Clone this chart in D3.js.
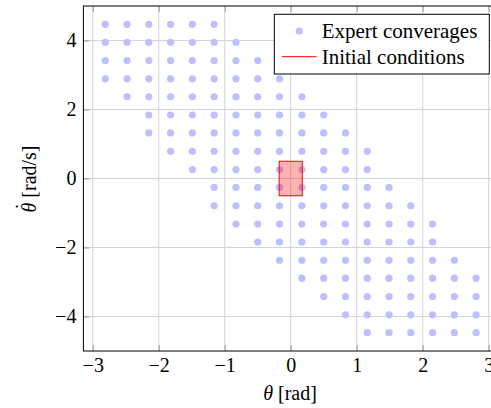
<!DOCTYPE html>
<html>
<head>
<meta charset="utf-8">
<script src="https://cdn.jsdelivr.net/npm/d3@7"></script>
<style>
  html, body { margin: 0; padding: 0; background: #fff; }
  svg { display: block; }
  svg text { font-family: "Liberation Serif", "Times New Roman", "DejaVu Serif", serif !important; }
</style>
</head>
<body>
<svg id="chart" width="491" height="408"></svg>
<script>
// ---- Data ----
const xTicks = [-3, -2, -1, 0, 1, 2, 3];
const yTicks = [-4, -2, 0, 2, 4];
const xDomain = [-3.1416, 3.1416];
const yDomain = [-5, 5];

// Expert converged initial states: [thetaDot, [theta values]]
const expertRows = [
  [4.47,  [-2.81, -2.48, -2.15, -1.82, -1.49, -1.16]],
  [3.95,  [-2.81, -2.48, -2.15, -1.82, -1.49, -1.16, -0.83]],
  [3.42,  [-2.81, -2.48, -2.15, -1.82, -1.49, -1.16, -0.83, -0.50]],
  [2.89,  [-2.81, -2.48, -2.15, -1.82, -1.49, -1.16, -0.83, -0.50, -0.17]],
  [2.37,  [-2.48, -2.15, -1.82, -1.49, -1.16, -0.83, -0.50, -0.17, 0.17]],
  [1.84,  [-2.15, -1.82, -1.49, -1.16, -0.83, -0.50, -0.17, 0.17, 0.50]],
  [1.32,  [-2.15, -1.82, -1.49, -1.16, -0.83, -0.50, -0.17, 0.17, 0.50, 0.83]],
  [0.79,  [-1.82, -1.49, -1.16, -0.83, -0.50, -0.17, 0.17, 0.50, 0.83, 1.16]],
  [0.26,  [-1.49, -1.16, -0.83, -0.50, -0.17, 0.17, 0.50, 0.83, 1.16]],
  [-0.26, [-1.16, -0.83, -0.50, -0.17, 0.17, 0.50, 0.83, 1.16, 1.49]],
  [-0.79, [-1.16, -0.83, -0.50, -0.17, 0.17, 0.50, 0.83, 1.16, 1.49, 1.82]],
  [-1.32, [-0.83, -0.50, -0.17, 0.17, 0.50, 0.83, 1.16, 1.49, 1.82, 2.15]],
  [-1.84, [-0.50, -0.17, 0.17, 0.50, 0.83, 1.16, 1.49, 1.82, 2.15]],
  [-2.37, [-0.17, 0.17, 0.50, 0.83, 1.16, 1.49, 1.82, 2.15, 2.48]],
  [-2.89, [0.17, 0.50, 0.83, 1.16, 1.49, 1.82, 2.15, 2.48, 2.81]],
  [-3.42, [0.50, 0.83, 1.16, 1.49, 1.82, 2.15, 2.48, 2.81]],
  [-3.95, [0.83, 1.16, 1.49, 1.82, 2.15, 2.48, 2.81]],
  [-4.47, [1.16, 1.49, 1.82, 2.15, 2.48, 2.81]]
];

// Initial conditions box
const initTheta = [-0.175, 0.175];
const initThetaDot = [-0.5, 0.5];

const legendLabels = ["Expert converages", "Initial conditions"];

// ---- Layout ----
const svg = d3.select("#chart");
const pLeft = 83.4, pRight = 498.0, pTop = 6, pBottom = 351;
const x = d3.scaleLinear().domain(xDomain).range([pLeft, pRight]);
const y = d3.scaleLinear().domain(yDomain).range([pBottom, pTop]);

const dotColor = "#bfbfff";
const gridColor = "#d4d4d4";
const tickColor = "#9a9a9a";
const fontSize = 20;

// grid
const grid = svg.append("g");
grid.selectAll("line.gx").data(xTicks).join("line")
  .attr("x1", d => x(d)).attr("x2", d => x(d))
  .attr("y1", pTop).attr("y2", pBottom)
  .attr("stroke", gridColor).attr("stroke-width", 1);
grid.selectAll("line.gy").data(yTicks).join("line")
  .attr("y1", d => y(d)).attr("y2", d => y(d))
  .attr("x1", pLeft).attr("x2", pRight)
  .attr("stroke", gridColor).attr("stroke-width", 1);

// points
const points = expertRows.flatMap(([td, thetas]) => thetas.map(t => ({t, td})));
svg.append("g").selectAll("circle").data(points).join("circle")
  .attr("cx", d => x(d.t)).attr("cy", d => y(d.td))
  .attr("r", 3.6).attr("fill", dotColor);

// initial conditions rect
svg.append("rect")
  .attr("x", x(initTheta[0])).attr("y", y(initThetaDot[1]))
  .attr("width", x(initTheta[1]) - x(initTheta[0]))
  .attr("height", y(initThetaDot[0]) - y(initThetaDot[1]))
  .attr("fill", "red").attr("fill-opacity", 0.3)
  .attr("stroke", "red").attr("stroke-width", 1);

// axes
function styleAxis(g, showLabels) {
  g.attr("font-family", null).attr("font-size", null);
  g.select(".domain").remove();
  g.selectAll(".tick line").attr("stroke", tickColor).attr("stroke-width", 1);
  g.selectAll(".tick text")
    .attr("font-size", fontSize)
    .attr("fill", "#000");
  if (!showLabels) g.selectAll(".tick text").remove();
}
svg.append("g").attr("transform", `translate(0,${pBottom})`)
  .call(d3.axisBottom(x).tickValues(xTicks).tickSize(-6).tickPadding(7).tickFormat(d3.format("d")))
  .call(g => styleAxis(g, true));
svg.append("g").attr("transform", `translate(0,${pTop})`)
  .call(d3.axisTop(x).tickValues(xTicks).tickSize(-6).tickFormat(""))
  .call(g => styleAxis(g, false));
svg.append("g").attr("transform", `translate(${pLeft},0)`)
  .call(d3.axisLeft(y).tickValues(yTicks).tickSize(-6).tickPadding(7).tickFormat(d3.format("d")))
  .call(g => styleAxis(g, true));
svg.append("g").attr("transform", `translate(${pRight},0)`)
  .call(d3.axisRight(y).tickValues(yTicks).tickSize(-6).tickFormat(""))
  .call(g => styleAxis(g, false));

// frame
svg.append("rect")
  .attr("x", pLeft).attr("y", pTop)
  .attr("width", pRight - pLeft).attr("height", pBottom - pTop)
  .attr("fill", "none").attr("stroke", "#000").attr("stroke-width", 1);

// axis labels
const xl = svg.append("text")
  .attr("x", 290).attr("y", 400)
  .attr("text-anchor", "middle").attr("font-size", fontSize);
xl.append("tspan").attr("font-style", "italic").text("θ");
xl.append("tspan").text(" [rad]");

const yl = svg.append("text")
  .attr("transform", "translate(36,179) rotate(-90)")
  .attr("text-anchor", "middle").attr("font-size", fontSize);
yl.append("tspan").attr("font-style", "italic").text("θ");
yl.append("tspan").attr("dx", -7.2).attr("dy", -6).text("\u02D9");
yl.append("tspan").attr("dx", 0.5).attr("dy", 6).text(" [rad/s]");

// legend
const lg = svg.append("g");
lg.append("rect")
  .attr("x", 274.3).attr("y", 14.3).attr("width", 215).attr("height", 59.7)
  .attr("fill", "#fff").attr("stroke", "#000").attr("stroke-width", 1);
lg.append("circle").attr("cx", 299.3).attr("cy", 31).attr("r", 3.6).attr("fill", dotColor);
lg.append("line").attr("x1", 281.7).attr("x2", 316.7).attr("y1", 56.7).attr("y2", 56.7)
  .attr("stroke", "red").attr("stroke-width", 1);
lg.selectAll("text").data(legendLabels).join("text")
  .attr("x", 321.7).attr("y", (d, i) => 37.5 + i * 26)
  .attr("font-size", 21).text(d => d);
</script>
</body>
</html>
